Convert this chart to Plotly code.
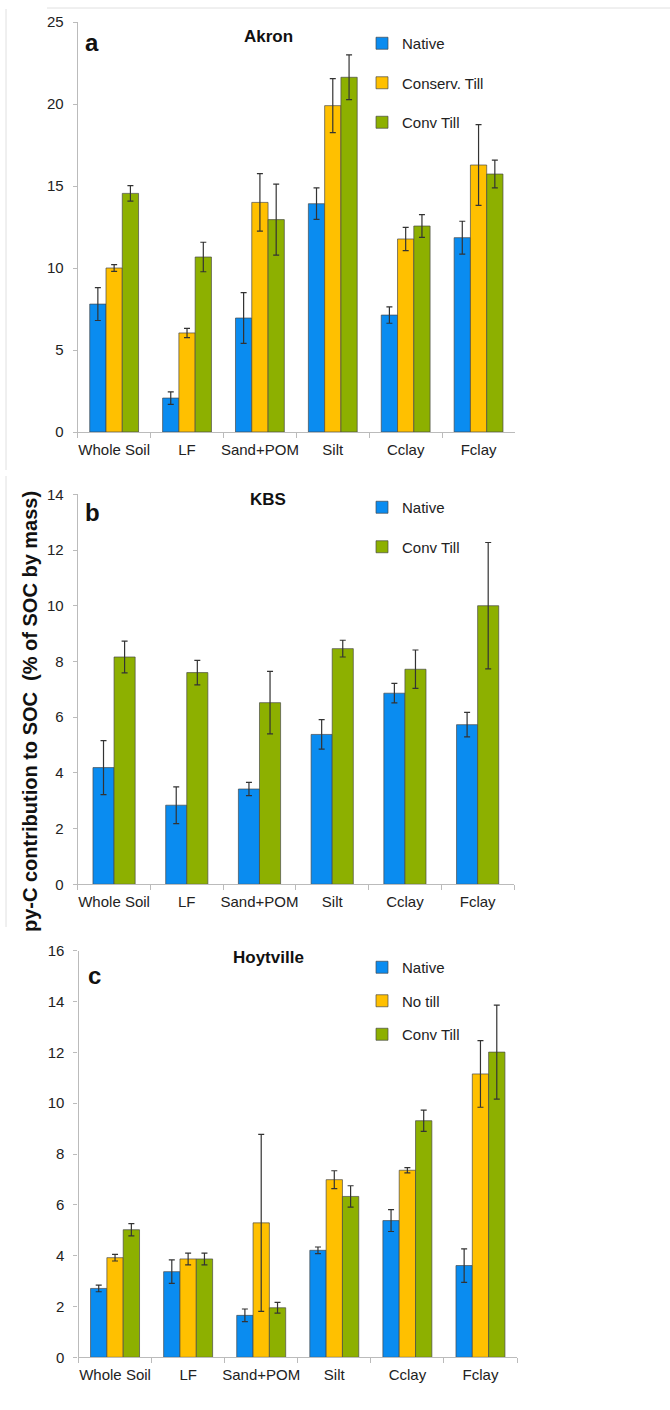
import plotly.graph_objects as go

categories = ["Whole Soil", "LF", "Sand+POM", "Silt", "Cclay", "Fclay"]

akron_native = [7.8, 2.07, 6.95, 13.92, 7.13, 11.85]
akron_native_err = [1.0, 0.38, 1.55, 0.96, 0.5, 1.0]
akron_conserv = [10.0, 6.04, 14.0, 19.9, 11.77, 16.28]
akron_conserv_err = [0.2, 0.28, 1.75, 1.65, 0.71, 2.46]
akron_conv = [14.55, 10.67, 12.95, 21.63, 12.56, 15.73]
akron_conv_err = [0.47, 0.9, 2.17, 1.36, 0.69, 0.85]

kbs_native = [4.19, 2.84, 3.42, 5.38, 6.86, 5.73]
kbs_native_err = [0.97, 0.66, 0.24, 0.53, 0.35, 0.44]
kbs_conv = [8.16, 7.60, 6.52, 8.46, 7.72, 10.0]
kbs_conv_err = [0.57, 0.44, 1.12, 0.30, 0.69, 2.27]

hoyt_native = [2.71, 3.37, 1.65, 4.21, 5.38, 3.61]
hoyt_native_err = [0.13, 0.46, 0.25, 0.13, 0.43, 0.66]
hoyt_notill = [3.92, 3.87, 5.29, 6.99, 7.36, 11.15]
hoyt_notill_err = [0.13, 0.23, 3.48, 0.35, 0.1, 1.31]
hoyt_conv = [5.02, 3.87, 1.95, 6.33, 9.31, 12.01]
hoyt_conv_err = [0.24, 0.23, 0.21, 0.42, 0.42, 1.85]

W, H = 670, 1410
BLUE, YELLOW, GREEN = "#0A8CF0", "#FFC000", "#8DB000"
FONT = "Liberation Sans, Arial, sans-serif"


def px(x):
    return x / W


def py(y):
    return 1 - y / H


fig = go.Figure()


def add_bar(name, vals, errs, color, xa, ya, leg, width=None, offset=None):
    kw = {}
    if width is not None:
        kw["width"] = width
        kw["offset"] = offset
    fig.add_trace(go.Bar(
        x=categories, y=vals, name=name, xaxis=xa, yaxis=ya,
        legend=leg, legendgroup=leg + name,
        marker=dict(color=color, line=dict(color="rgba(70,70,70,0.85)", width=0.8)),
        error_y=dict(type="data", array=errs, visible=True, color="#333333",
                     thickness=1.2, width=3),
        **kw))


add_bar("Native", akron_native, akron_native_err, BLUE, "x", "y", "legend")
add_bar("Conserv. Till", akron_conserv, akron_conserv_err, YELLOW, "x", "y", "legend")
add_bar("Conv Till", akron_conv, akron_conv_err, GREEN, "x", "y", "legend")

add_bar("Native", kbs_native, kbs_native_err, BLUE, "x2", "y2", "legend2", 0.29, -0.29)
add_bar("Conv Till", kbs_conv, kbs_conv_err, GREEN, "x2", "y2", "legend2", 0.29, 0.0)

add_bar("Native", hoyt_native, hoyt_native_err, BLUE, "x3", "y3", "legend3")
add_bar("No till", hoyt_notill, hoyt_notill_err, YELLOW, "x3", "y3", "legend3")
add_bar("Conv Till", hoyt_conv, hoyt_conv_err, GREEN, "x3", "y3", "legend3")

axis_common = dict(showline=True, linecolor="#BBBBBB", linewidth=1.2,
                   ticks="outside", tickcolor="#BBBBBB", ticklen=5,
                   showgrid=False, zeroline=False, automargin=False,
                   tickfont=dict(family=FONT, size=15, color="#222222"))

panels = [
    # (x0, x1, ytop, ybottom, ymax, dtick)
    (77.7, 515, 22, 432, 25, 5),
    (77.7, 514, 494.3, 884.3, 14, 2),
    (78.5, 517, 950.7, 1357.3, 16, 2),
]
for i, (x0, x1, yt, yb, ymax, dt) in enumerate(panels):
    sfx = "" if i == 0 else str(i + 1)
    fig.layout["xaxis" + sfx] = dict(
        domain=[px(x0), px(x1)], anchor="y" + sfx, tickson="boundaries",
        tickangle=0, ticklabelstandoff=4, **axis_common)
    fig.layout["yaxis" + sfx] = dict(
        domain=[py(yb), py(yt)], anchor="x" + sfx, range=[0, ymax], dtick=dt,
        ticklabelstandoff=6, **{**axis_common, "ticklen": 4})

leg_common = dict(font=dict(family=FONT, size=15, color="#222222"),
                  bgcolor="rgba(0,0,0,0)", traceorder="grouped",
                  xanchor="left", yanchor="top", itemwidth=30)
fig.layout.legend = dict(x=px(362), y=py(27), tracegroupgap=17, **leg_common)
fig.layout.legend2 = dict(x=px(362), y=py(491), tracegroupgap=17, **leg_common)
fig.layout.legend3 = dict(x=px(362), y=py(951), tracegroupgap=11, **leg_common)

annotations = []
for text, x, y in [("Akron", 268, 37), ("KBS", 268, 499), ("Hoytville", 268, 957)]:
    annotations.append(dict(text="<b>%s</b>" % text, x=px(x), y=py(y), xref="paper",
                            yref="paper", showarrow=False, xanchor="center",
                            yanchor="middle",
                            font=dict(family=FONT, size=17, color="#111111")))
for text, x, y in [("a", 92, 43), ("b", 92, 512), ("c", 94, 975)]:
    annotations.append(dict(text="<b>%s</b>" % text, x=px(x), y=py(y), xref="paper",
                            yref="paper", showarrow=False, xanchor="center",
                            yanchor="middle",
                            font=dict(family=FONT, size=24, color="#111111")))
annotations.append(dict(text="<b>py-C contribution to SOC  (% of SOC by mass)</b>",
                        x=px(30), y=py(712), xref="paper", yref="paper",
                        showarrow=False, textangle=-90, xanchor="center",
                        yanchor="middle",
                        font=dict(family=FONT, size=20, color="#111111")))

shapes = [
    dict(type="line", xref="paper", yref="paper", x0=px(47), x1=px(670),
         y0=py(8), y1=py(8), line=dict(color="#E0E0E0", width=1)),
    dict(type="line", xref="paper", yref="paper", x0=px(6), x1=px(6),
         y0=py(9), y1=py(470), line=dict(color="#E0E0E0", width=1)),
    dict(type="line", xref="paper", yref="paper", x0=px(6), x1=px(6),
         y0=py(476), y1=py(927), line=dict(color="#E0E0E0", width=1)),
]

fig.update_layout(
    width=W, height=H, margin=dict(l=0, r=0, t=0, b=0, autoexpand=False),
    paper_bgcolor="white", plot_bgcolor="white",
    barmode="group", bargap=0.33, bargroupgap=0,
    showlegend=True, annotations=annotations, shapes=shapes,
    font=dict(family=FONT),
)

fig.write_html("out.html", config={"displayModeBar": False},
               post_script="document.body.style.margin='0';document.body.style.padding='0';")
